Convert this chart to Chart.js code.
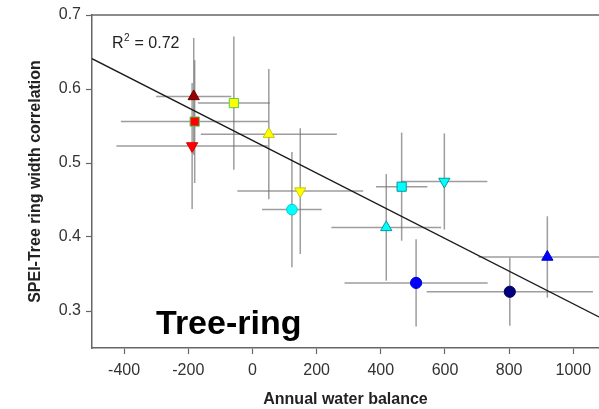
<!DOCTYPE html>
<html><head><meta charset="utf-8">
<style>html,body{margin:0;padding:0;background:#fff}#wrap{width:599px;height:409px}</style>
<script src="https://cdn.jsdelivr.net/npm/chart.js"></script>
</head><body><div id="wrap"><canvas id="c" width="599" height="409"></canvas></div>
<script>
// ---- data ----
const waterBalance = [-183, -180, -188, -58, 51, 149, 123, 417, 465, 598, 510, 802, 919];
const correlation  = [0.590, 0.556, 0.523, 0.581, 0.539, 0.462, 0.437, 0.413, 0.468, 0.475, 0.338, 0.326, 0.373];
const xError = [117, 230, 236, 112, 212, 196, 93, 171, 80, 134, 223, 259, 215];
const yError = [0.079, 0.083, 0.085, 0.090, 0.088, 0.085, 0.078, 0.072, 0.073, 0.065, 0.059, 0.046, 0.055];
const markerStyles = ['triangle','rect','triangle','rect','triangle','triangle','circle','triangle','rect','triangle','circle','circle','triangle'];
const markerRotation = [0,0,180,0,0,180,0,0,0,180,0,0,0];
const fillColors = ['#9a0000','#ff0000','#ff0000','#ffff00','#ffff00','#ffff00','#00ffff','#00ffff','#00ffff','#00ffff','#0000ff','#000080','#0000ff'];
const edgeColors = ['#6a0000','#55cc55','#dd0000','#55cc55','#c8c800','#c8c800','#00cccc','#009a9a','#009a9a','#009a9a','#0000cc','#000050','#0000cc'];
const markerRadius = [6.5,6.5,6.5,6.5,6.5,6.5,5.3,6.5,6.5,6.5,5.6,5.6,6.5];
const fitLineX = [-500, 1080];
const fitLineY = [0.641, 0.292];
const xTicks = [-400, -200, 0, 200, 400, 600, 800, 1000];
const yTicks = [0.3, 0.4, 0.5, 0.6, 0.7];
const rSquaredLabel = '0.72';
const panelLabel = 'Tree-ring';

// ---- build datasets ----
const errColor = 'rgba(115,115,115,0.7)';
const datasets = [];
waterBalance.forEach((x, i) => {
  const y = correlation[i];
  datasets.push({ data: [{x: x - xError[i], y}, {x: x + xError[i], y}], showLine: true, pointRadius: 0,
    borderColor: errColor, borderWidth: 1.5, order: 3 });
  datasets.push({ data: [{x, y: y - yError[i]}, {x, y: y + yError[i]}], showLine: true, pointRadius: 0,
    borderColor: errColor, borderWidth: 1.5, order: 3 });
});
datasets.push({ data: fitLineX.map((x, i) => ({x, y: fitLineY[i]})), showLine: true, pointRadius: 0,
  borderColor: '#1a1a1a', borderWidth: 1.3, order: 2 });
datasets.push({ data: waterBalance.map((x, i) => ({x, y: correlation[i]})),
  pointStyle: markerStyles, rotation: markerRotation, pointRotation: markerRotation,
  pointRadius: markerRadius, pointBackgroundColor: fillColors, pointBorderColor: edgeColors,
  pointBorderWidth: 1, order: 1 });

const axisColor = '#666';
const textColor = '#333';
const FONT = 'Arial, "Liberation Sans", sans-serif';

const decor = {
  id: 'decor',
  afterDraw(chart) {
    const {ctx, chartArea: a} = chart;
    ctx.save();
    ctx.strokeStyle = axisColor; ctx.lineWidth = 1.5;
    ctx.beginPath(); ctx.moveTo(a.left, a.top); ctx.lineTo(chart.width, a.top); ctx.stroke();
    // R^2 label
    ctx.fillStyle = '#222'; ctx.textBaseline = 'alphabetic'; ctx.textAlign = 'left';
    let x = a.left + 20, y = a.top + 33;
    ctx.font = '16px ' + FONT;
    ctx.fillText('R', x, y); x += ctx.measureText('R').width;
    ctx.font = '10px ' + FONT;
    ctx.fillText('2', x + 0.5, y - 7); x += ctx.measureText('2').width + 1;
    ctx.font = '16px ' + FONT;
    ctx.fillText(' = ' + rSquaredLabel, x, y);
    // panel label
    ctx.fillStyle = '#000';
    ctx.font = 'bold 34px ' + FONT;
    ctx.fillText(panelLabel, a.left + 64, a.bottom - 14);
    ctx.restore();
  }
};

new Chart(document.getElementById('c'), {
  type: 'scatter',
  data: { datasets },
  options: {
    responsive: false, animation: false, devicePixelRatio: 1,
    layout: { autoPadding: false, padding: { top: 15, right: 0, left: 0, bottom: 0 } },
    plugins: { legend: { display: false }, tooltip: { enabled: false } },
    elements: { line: { tension: 0 } },
    scales: {
      x: {
        type: 'linear', min: -500, max: 1080,
        afterBuildTicks: s => { s.ticks = xTicks.map(v => ({value: v})); },
        afterFit: s => { s.height = 61; s.paddingLeft = 0; s.paddingRight = 0; },
        grid: { display: true, drawOnChartArea: false, drawTicks: true, tickLength: 6, tickColor: axisColor, tickWidth: 1.2 },
        border: { display: true, color: axisColor, width: 1.5 },
        ticks: { color: textColor, padding: 7, font: { size: 16, family: FONT }, maxRotation: 0, autoSkip: false,
          callback: v => String(v) },
        title: { display: true, text: 'Annual water balance', color: '#222', padding: { top: 0, bottom: 0 },
          font: { size: 16, weight: 'bold', family: FONT } }
      },
      y: {
        type: 'linear', min: 0.25, max: 0.7,
        afterBuildTicks: s => { s.ticks = yTicks.map(v => ({value: v})); },
        afterFit: s => { s.width = 92; s.paddingTop = 0; s.paddingBottom = 0; },
        grid: { display: true, drawOnChartArea: false, drawTicks: true, tickLength: 6, tickColor: axisColor, tickWidth: 1.2 },
        border: { display: true, color: axisColor, width: 1.5 },
        ticks: { color: textColor, padding: 5, font: { size: 16, family: FONT },
          callback: v => v.toFixed(1) },
        title: { display: true, text: 'SPEI-Tree ring width correlation', color: '#222', padding: { top: 26, bottom: 0 },
          font: { size: 16, weight: 'bold', family: FONT } }
      }
    }
  },
  plugins: [decor]
});
</script></body></html>
